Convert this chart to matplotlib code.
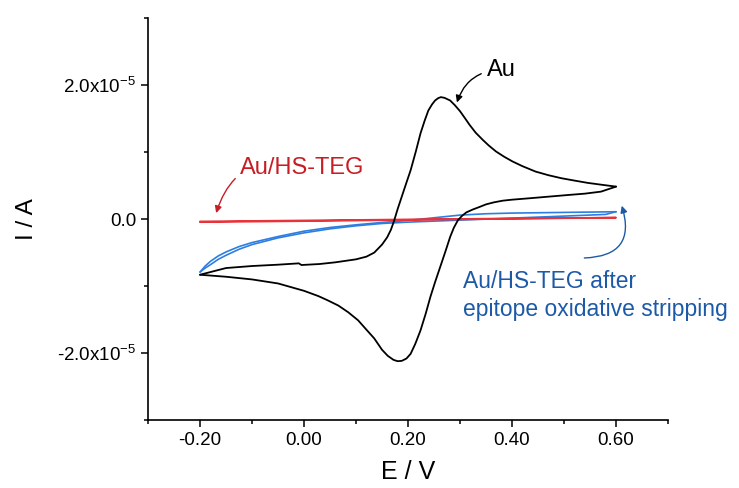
import matplotlib
matplotlib.use("Agg")
import matplotlib.pyplot as plt
import numpy as np

plt.rcParams['font.family'] = ['Liberation Sans', 'DejaVu Sans']
plt.rcParams['mathtext.default'] = 'regular'

# Au, bare electrode (uA)
au_fwd_v = [-0.2, -0.18, -0.15, -0.1, -0.05, -0.01, -0.005, 0.03, 0.06, 0.1, 0.12, 0.135,
            0.15, 0.16, 0.167, 0.173, 0.18, 0.186, 0.195, 0.205, 0.215, 0.224, 0.232, 0.239,
            0.246, 0.252, 0.258, 0.263, 0.27, 0.281, 0.29, 0.3, 0.31, 0.318, 0.33, 0.344,
            0.355, 0.369, 0.385, 0.401, 0.42, 0.445, 0.47, 0.495, 0.52, 0.546, 0.575, 0.6]
au_fwd_i = [-8.3, -7.9, -7.3, -7.0, -6.8, -6.6, -6.85, -6.7, -6.45, -6.0, -5.6, -5.0,
            -3.8, -2.7, -1.6, -0.3, 1.5, 2.9, 5.0, 7.3, 10.1, 12.8, 14.7, 16.2,
            17.1, 17.7, 18.05, 18.2, 18.1, 17.7, 17.0, 16.1, 15.0, 14.1, 12.9, 11.8,
            11.0, 10.1, 9.3, 8.6, 7.9, 7.1, 6.55, 6.1, 5.75, 5.4, 5.1, 4.85]
au_rev_v = [0.6, 0.571, 0.54, 0.508, 0.47, 0.432, 0.4, 0.382, 0.365, 0.35, 0.337, 0.325,
            0.312, 0.304, 0.296, 0.288, 0.281, 0.272, 0.262, 0.252, 0.243, 0.234, 0.224,
            0.214, 0.205, 0.197, 0.188, 0.18, 0.172, 0.161, 0.15, 0.135, 0.12, 0.104,
            0.085, 0.066, 0.045, 0.028, 0.0, -0.05, -0.1, -0.15, -0.2]
au_rev_i = [4.85, 4.1, 3.8, 3.6, 3.35, 3.1, 2.9, 2.75, 2.5, 2.2, 1.8, 1.45,
            1.0, 0.5, -0.15, -1.3, -2.65, -4.8, -7.1, -9.4, -11.6, -14.1, -16.6,
            -18.6, -20.1, -20.8, -21.15, -21.2, -21.0, -20.4, -19.5, -17.8, -16.5, -15.1,
            -13.9, -12.9, -12.1, -11.5, -10.7, -9.6, -9.0, -8.6, -8.3]

# Au/HS-TEG after stripping (uA)
strip_up_v = [-0.2, -0.19, -0.18, -0.165, -0.15, -0.125, -0.1, -0.05, 0.0, 0.05, 0.1, 0.15,
              0.2, 0.25, 0.3, 0.35, 0.4, 0.45, 0.5, 0.55, 0.6]
strip_up_i = [-7.9, -7.0, -6.3, -5.5, -4.9, -4.1, -3.5, -2.6, -1.8, -1.25, -0.85, -0.5,
              -0.2, 0.2, 0.6, 0.8, 0.9, 0.95, 1.0, 1.05, 1.1]
strip_lo_v = [0.6, 0.58, 0.5, 0.45, 0.4, 0.35, 0.3, 0.25, 0.2, 0.15, 0.1, 0.05, 0.0,
              -0.05, -0.1, -0.125, -0.15, -0.165, -0.18, -0.19, -0.2]
strip_lo_i = [1.1, 0.7, 0.45, 0.3, 0.15, 0.0, -0.15, -0.3, -0.45, -0.65, -1.0, -1.45, -2.05,
              -2.8, -3.8, -4.5, -5.4, -6.0, -6.8, -7.3, -7.9]

# Au/HS-TEG (uA)
teg_v = [-0.2, 0.0, 0.2, 0.4, 0.6, 0.4, 0.2, 0.0, -0.2]
teg_i = [-0.45, -0.3, -0.12, 0.05, 0.22, 0.1, -0.05, -0.2, -0.35]

xticks = [-0.2, 0.0, 0.2, 0.4, 0.6]
xticklabels = ['-0.20', '0.00', '0.20', '0.40', '0.60']
yticks = [-2e-5, 0, 2e-5]
yticklabels = ['-2.0x10$^{-5}$', '0.0', '2.0x10$^{-5}$']

fig = plt.figure(figsize=(7.39, 4.88), dpi=100)
ax = fig.add_axes([0.2003, 0.139, 0.7037, 0.824])

ua = 1e-6
kw = dict(solid_joinstyle='round', solid_capstyle='round')
ax.plot(strip_up_v, np.array(strip_up_i) * ua, color='#2d7ee0', lw=1.2, **kw)
ax.plot(strip_lo_v, np.array(strip_lo_i) * ua, color='#2d7ee0', lw=1.2, **kw)
ax.plot(teg_v, np.array(teg_i) * ua, color='#e8333a', lw=1.3, **kw)
ax.plot(au_fwd_v, np.array(au_fwd_i) * ua, color='black', lw=1.3, **kw)
ax.plot(au_rev_v, np.array(au_rev_i) * ua, color='black', lw=1.3, **kw)

ax.set_xlim(-0.3, 0.7)
ax.set_ylim(-3e-5, 3e-5)
ax.set_xticks(xticks)
ax.set_xticklabels(xticklabels)
ax.set_xticks([-0.3, -0.1, 0.1, 0.3, 0.5, 0.7], minor=True)
ax.set_yticks(yticks)
ax.set_yticklabels(yticklabels)
ax.set_yticks([-3e-5, -1e-5, 1e-5, 3e-5], minor=True)
ax.tick_params(which='major', direction='out', length=5, width=1.1, labelsize=13.5)
ax.tick_params(which='minor', direction='out', length=3, width=1.1)
for s in ['top', 'right']:
    ax.spines[s].set_visible(False)
for s in ['left', 'bottom']:
    ax.spines[s].set_linewidth(1.2)

ax.set_xlabel('E / V', fontsize=18, labelpad=8)
ax.set_ylabel('I / A', fontsize=17.5, labelpad=14)

# annotations
ax.annotate('Au', xy=(0.294, 17.4e-6), xytext=(0.351, 22.3e-6), fontsize=17,
            va='center', ha='left', color='black',
            arrowprops=dict(arrowstyle='-|>', color='black', lw=1.0, mutation_scale=10,
                            connectionstyle='arc3,rad=0.35', shrinkA=2, shrinkB=0))
ax.annotate('Au/HS-TEG', xy=(-0.169, 0.9e-6), xytext=(-0.123, 7.6e-6), fontsize=17,
            va='center', ha='left', color='#c81d25',
            arrowprops=dict(arrowstyle='-|>', color='#c81d25', lw=1.0, mutation_scale=10,
                            connectionstyle='arc3,rad=0.5', shrinkA=2, shrinkB=0))
ax.annotate('', xy=(0.611, 2.0e-6), xytext=(0.539, -5.8e-6),
            arrowprops=dict(arrowstyle='-|>', color='#1c5aa8', lw=1.0, mutation_scale=10,
                            connectionstyle='arc3,rad=0.65', shrinkA=0, shrinkB=0))
ax.text(0.305, -7.6e-6, 'Au/HS-TEG after\nepitope oxidative stripping', fontsize=16.5,
        color='#1c5aa8', va='top', ha='left', linespacing=1.3)

fig.savefig('out.png', dpi=100)
